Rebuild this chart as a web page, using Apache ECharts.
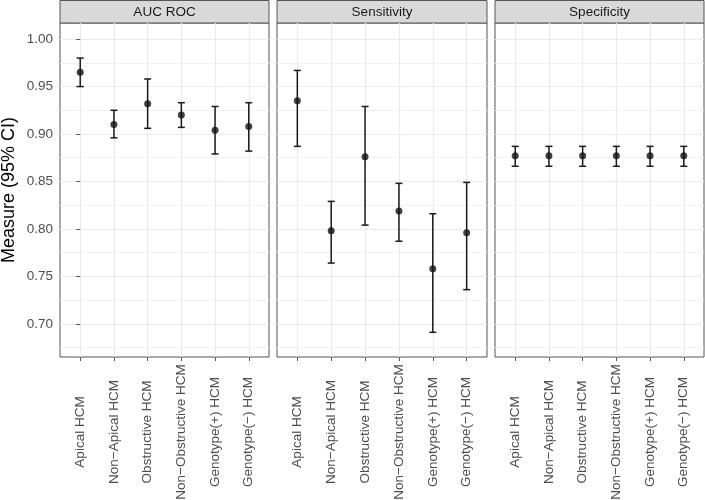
<!DOCTYPE html>
<html>
<head>
<meta charset="utf-8">
<script src="https://cdn.jsdelivr.net/npm/echarts@6/dist/echarts.min.js"></script>
<style>
  html, body { margin: 0; padding: 0; background: #fff; }
  #chart { width: 705px; height: 500px; }
</style>
</head>
<body>
<div id="chart"></div>
<script>
var categories = ['Apical HCM', 'Non\u2212Apical HCM', 'Obstructive HCM', 'Non\u2212Obstructive HCM', 'Genotype(+) HCM', 'Genotype(\u2212) HCM']
var panels = ['AUC ROC', 'Sensitivity', 'Specificity']

// point estimate, lower and upper 95% CI, per panel
var aucEst = [0.965, 0.910, 0.932, 0.920, 0.904, 0.908]
var aucLow = [0.950, 0.896, 0.906, 0.907, 0.879, 0.882]
var aucHigh = [0.980, 0.925, 0.958, 0.933, 0.929, 0.933]

var sensEst = [0.935, 0.798, 0.876, 0.819, 0.758, 0.796]
var sensLow = [0.887, 0.764, 0.804, 0.787, 0.691, 0.736]
var sensHigh = [0.967, 0.829, 0.929, 0.848, 0.816, 0.849]

var specEst = [0.877, 0.877, 0.877, 0.877, 0.877, 0.877]
var specLow = [0.866, 0.866, 0.866, 0.866, 0.866, 0.866]
var specHigh = [0.887, 0.887, 0.887, 0.887, 0.887, 0.887]

var yTicks = [0.70, 0.75, 0.80, 0.85, 0.90, 0.95, 1.00]
var yMinor = [0.675, 0.725, 0.775, 0.825, 0.875, 0.925, 0.975]
var xTicks = [0, 1, 2, 3, 4, 5]

var est = [aucEst, sensEst, specEst]
var low = [aucLow, sensLow, specLow]
var high = [aucHigh, sensHigh, specHigh]

var font = 'Liberation Sans, Arial, sans-serif'
var panelLeft = [60, 277, 495]
var panelRight = [436, 218, 1]
var stripH = 23
var bottom = 143

var chart = echarts.init(document.getElementById('chart'), null, { renderer: 'canvas' })

var grids = [], xAxes = [], yAxes = [], series = [], graphics = []

panels.forEach(function (name, p) {
	grids.push({
		left: panelLeft[p], right: panelRight[p], top: stripH, bottom: bottom,
		containLabel: false, outerBoundsMode: 'none',
		show: true, backgroundColor: '#fff', borderColor: '#555', borderWidth: 1,
		z: 0,
	})
	xAxes.push({
		gridIndex: p, type: 'value', min: -0.6, max: 5.6,
		axisLine: { show: false },
		axisTick: { show: true, customValues: xTicks, length: 4, lineStyle: { color: '#555' } },
		axisLabel: {
			customValues: xTicks, rotate: 90, align: 'center', margin: 75,
			fontSize: 13.5, color: '#4d4d4d', fontFamily: font,
			formatter: function (v) { return categories[Math.round(v)] },
		},
		splitLine: { show: true, lineStyle: { color: '#ebebeb', width: 1.2 } },
	})
	// major y axis
	yAxes.push({
		gridIndex: p, type: 'value', min: 0.665, max: 1.017,
		name: p === 0 ? 'Measure (95% CI)' : '',
		nameLocation: 'middle', nameGap: 42, nameRotate: 90,
		nameTextStyle: { fontSize: 18, color: '#000', fontFamily: font },
		axisLine: { show: false },
		axisTick: { show: p === 0, customValues: yTicks, length: 4, lineStyle: { color: '#555' } },
		axisLabel: {
			show: p === 0, customValues: yTicks, margin: 7, fontSize: 13.5, color: '#4d4d4d', fontFamily: font,
			formatter: function (v) { return v.toFixed(2) },
		},
		splitLine: { show: true, lineStyle: { color: '#ebebeb', width: 1.2 } },
	})
	// minor grid lines
	yAxes.push({
		gridIndex: p, type: 'value', min: 0.665, max: 1.017, position: 'left',
		axisLine: { show: false },
		axisTick: { show: false, customValues: yMinor },
		axisLabel: { show: false },
		splitLine: { show: true, lineStyle: { color: '#f2f2f2', width: 1 } },
	})

	series.push({
		type: 'custom', xAxisIndex: p, yAxisIndex: p * 2,
		data: xTicks.map(function (i) { return [i, low[p][i], high[p][i]] }),
		encode: { x: 0, y: [1, 2] },
		renderItem: function (params, api) {
			var lo = api.coord([api.value(0), api.value(1)])
			var hi = api.coord([api.value(0), api.value(2)])
			var w = 3.5
			var style = { stroke: '#1a1a1a', lineWidth: 1.5 }
			return {
				type: 'group',
				children: [
					{ type: 'line', shape: { x1: lo[0], y1: lo[1], x2: hi[0], y2: hi[1] }, style: style },
					{ type: 'line', shape: { x1: lo[0] - w, y1: lo[1], x2: lo[0] + w, y2: lo[1] }, style: style },
					{ type: 'line', shape: { x1: hi[0] - w, y1: hi[1], x2: hi[0] + w, y2: hi[1] }, style: style },
				],
			}
		},
		z: 3,
	})
	series.push({
		type: 'scatter', xAxisIndex: p, yAxisIndex: p * 2,
		data: xTicks.map(function (i) { return [i, est[p][i]] }),
		symbol: 'circle', symbolSize: 7,
		itemStyle: { color: '#111' },
		z: 4,
	})

	// facet strip
	var stripW = 705 - panelLeft[p] - panelRight[p]
	graphics.push({
		type: 'rect',
		shape: { x: panelLeft[p], y: 0.5, width: stripW, height: stripH - 0.5 },
		style: { fill: '#d9d9d9', stroke: '#555', lineWidth: 1 },
	})
	graphics.push({
		type: 'text',
		x: panelLeft[p] + stripW / 2, y: stripH / 2 + 1,
		style: { text: name, fill: '#1a1a1a', font: '13.5px ' + font, textAlign: 'center', textVerticalAlign: 'middle' },
	})
})

chart.setOption({
	backgroundColor: '#fff',
	animation: false,
	grid: grids,
	xAxis: xAxes,
	yAxis: yAxes,
	series: series,
	graphic: graphics,
})
</script>
</body>
</html>
